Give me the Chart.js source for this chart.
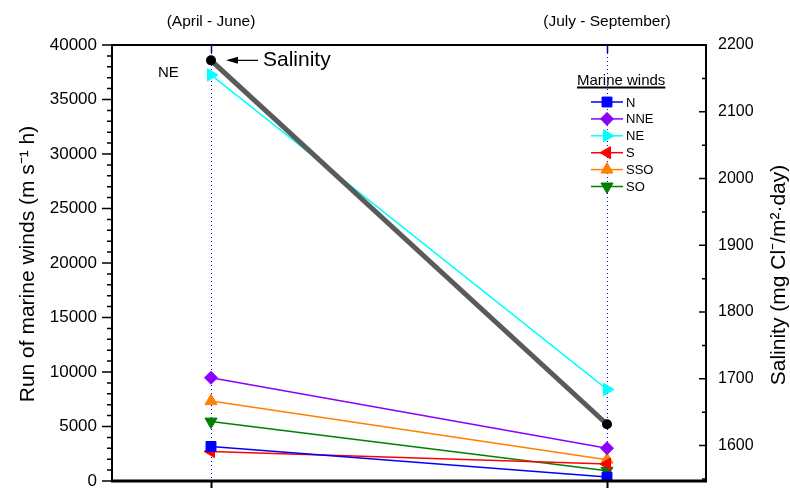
<!DOCTYPE html>
<html>
<head>
<meta charset="utf-8">
<script src="https://cdn.jsdelivr.net/npm/chart.js@4/dist/chart.umd.min.js"></script>
<style>
html,body{margin:0;padding:0;background:#fff;}
canvas{display:block;}
</style>
</head>
<body>
<canvas id="c" width="790" height="489"></canvas>
<script>
// ---- data ----
const categories = ['(April - June)', '(July - September)'];
const windN   = [3170, 360];
const windNNE = [9470, 3010];
const windNE  = [37260, 8400];
const windS   = [2710, 1550];
const windSSO = [7330, 1950];
const windSO  = [5450, 940];
const salinity = [2177, 1632];
const leftTicks = [0, 5000, 10000, 15000, 20000, 25000, 30000, 35000, 40000];
const rightTicks = [1600, 1700, 1800, 1900, 2000, 2100, 2200];
const seriesNames = ['N', 'NNE', 'NE', 'S', 'SSO', 'SO'];

const FONT = '"Liberation Sans", Arial, sans-serif';
const pts = arr => arr.map((v, i) => ({x: i, y: v}));

function windSet(label, data, color, style, rot, radius) {
  return {
    label, data: pts(data), yAxisID: 'y',
    borderColor: color, backgroundColor: color, borderWidth: 1.5,
    pointStyle: style, pointRotation: rot, pointRadius: radius,
    pointBackgroundColor: color, pointBorderColor: color, pointBorderWidth: 1,
    order: 2
  };
}

const datasets = [
  windSet(seriesNames[0], windN, '#0000ff', 'rect', 0, 7),
  windSet(seriesNames[1], windNNE, '#8a00ff', 'rectRot', 0, 6.5),
  windSet(seriesNames[2], windNE, '#00ffff', 'triangle', 90, 7),
  windSet(seriesNames[3], windS, '#ff0000', 'triangle', -90, 7),
  windSet(seriesNames[4], windSSO, '#ff8000', 'triangle', 0, 7),
  windSet(seriesNames[5], windSO, '#008000', 'triangle', 180, 7),
  {
    label: 'Salinity', data: pts(salinity), yAxisID: 'y2',
    borderColor: '#5a5a5a', borderWidth: 5,
    pointStyle: 'circle', pointRadius: 5,
    pointBackgroundColor: '#000', pointBorderColor: '#000', pointBorderWidth: 0,
    order: 1
  }
];

function drawMarker(ctx, ds, x, y) {
  ctx.save();
  ctx.fillStyle = ds.pointBackgroundColor;
  ctx.strokeStyle = ds.pointBorderColor;
  ctx.lineWidth = 1;
  Chart.helpers.drawPoint(ctx, {pointStyle: ds.pointStyle, rotation: ds.pointRotation, radius: ds.pointRadius, borderWidth: 1}, x, y);
  ctx.restore();
}

const decor = {
  id: 'decor',
  beforeDatasetsDraw(chart) {
    const ctx = chart.ctx, a = chart.chartArea, xs = chart.scales.x;
    ctx.save();
    ctx.strokeStyle = '#0000ff';
    ctx.lineWidth = 1;
    ctx.setLineDash([1, 3]);
    categories.forEach((c, i) => {
      const px = Math.round(xs.getPixelForValue(i)) + 0.5;
      ctx.beginPath(); ctx.moveTo(px, a.top); ctx.lineTo(px, a.bottom); ctx.stroke();
    });
    ctx.restore();
  },
  afterDatasetsDraw(chart) {
    const ctx = chart.ctx, a = chart.chartArea;
    const xs = chart.scales.x, ys = chart.scales.y, y2 = chart.scales.y2;
    ctx.save();
    // frame
    ctx.strokeStyle = '#000';
    ctx.lineWidth = 2;
    ctx.beginPath();
    ctx.moveTo(a.left, a.top); ctx.lineTo(a.right, a.top);
    ctx.moveTo(a.left, a.top - 1); ctx.lineTo(a.left, a.bottom);
    ctx.moveTo(a.right, a.top - 1); ctx.lineTo(a.right, a.bottom);
    ctx.stroke();
    ctx.lineWidth = 3;
    ctx.beginPath(); ctx.moveTo(a.left - 1, a.bottom); ctx.lineTo(a.right + 1, a.bottom); ctx.stroke();
    // left ticks
    ctx.lineWidth = 1.5;
    ctx.beginPath();
    for (let v = ys.min; v <= ys.max; v += 1000) {
      const py = ys.getPixelForValue(v);
      const len = (v % 5000 === 0) ? 10 : 5;
      ctx.moveTo(a.left - len, py); ctx.lineTo(a.left, py);
    }
    // right ticks
    for (let v = 1550; v <= y2.max; v += 50) {
      if (v < y2.min) continue;
      const py = y2.getPixelForValue(v);
      const len = (v % 100 === 0) ? 7 : 4;
      ctx.moveTo(a.right - len, py); ctx.lineTo(a.right, py);
    }
    ctx.stroke();
    // x ticks
    ctx.lineWidth = 2;
    ctx.beginPath();
    categories.forEach((c, i) => {
      const px = Math.round(xs.getPixelForValue(i)) + 0.5;
      ctx.moveTo(px, a.bottom); ctx.lineTo(px, a.bottom + 7);
    });
    ctx.stroke();
    ctx.strokeStyle = '#000080';
    ctx.lineWidth = 1.5;
    ctx.beginPath();
    categories.forEach((c, i) => {
      const px = Math.round(xs.getPixelForValue(i)) + 0.5;
      ctx.moveTo(px, a.top); ctx.lineTo(px, a.top + 8);
    });
    ctx.stroke();

    // legend
    const lx0 = a.right - 115, lx1 = a.right - 83, lmx = (lx0 + lx1) / 2;
    ctx.fillStyle = '#000';
    ctx.font = '15px ' + FONT;
    ctx.textBaseline = 'alphabetic';
    ctx.textAlign = 'left';
    const tx = a.right - 129;
    ctx.fillText('Marine winds', tx, a.top + 40);
    const tw = ctx.measureText('Marine winds').width;
    ctx.lineWidth = 2;
    ctx.strokeStyle = '#000';
    ctx.beginPath(); ctx.moveTo(tx, a.top + 42.5); ctx.lineTo(tx + tw, a.top + 42.5); ctx.stroke();
    ctx.font = '13px ' + FONT;
    ctx.textBaseline = 'middle';
    datasets.slice(0, 6).forEach((ds, i) => {
      const ly = a.top + 57 + i * 16.9;
      ctx.strokeStyle = ds.borderColor;
      ctx.lineWidth = 1.5;
      ctx.beginPath(); ctx.moveTo(lx0, ly); ctx.lineTo(lx1, ly); ctx.stroke();
      drawMarker(ctx, ds, lmx, ly);
      ctx.fillStyle = '#000';
      ctx.fillText(ds.label, lx1 + 3, ly + 1);
    });

    // annotations
    const sx = xs.getPixelForValue(0), sy = y2.getPixelForValue(salinity[0]);
    ctx.strokeStyle = '#000';
    ctx.fillStyle = '#000';
    ctx.lineWidth = 1.2;
    ctx.beginPath(); ctx.moveTo(sx + 25, sy); ctx.lineTo(sx + 47, sy); ctx.stroke();
    ctx.beginPath();
    ctx.moveTo(sx + 15, sy); ctx.lineTo(sx + 27, sy - 3.5); ctx.lineTo(sx + 27, sy + 3.5); ctx.closePath(); ctx.fill();
    ctx.font = '21px ' + FONT;
    ctx.textAlign = 'left';
    ctx.textBaseline = 'middle';
    ctx.fillText('Salinity', sx + 52, sy);
    const ney = ys.getPixelForValue(windNE[0]);
    ctx.font = '15px ' + FONT;
    ctx.fillText('NE', sx - 53, ney - 2);
    ctx.restore();
  },
  afterDraw(chart) {
    const ctx = chart.ctx, a = chart.chartArea;
    const cy = (a.top + a.bottom) / 2;
    ctx.save();
    ctx.fillStyle = '#000';
    ctx.font = '21px ' + FONT;
    ctx.textAlign = 'center';
    ctx.textBaseline = 'middle';
    ctx.translate(28, cy + 1);
    ctx.rotate(-Math.PI / 2);
    ctx.fillText('Run of marine winds (m s\u207B\u00B9 h)', 0, 0);
    ctx.restore();
    ctx.save();
    ctx.fillStyle = '#000';
    ctx.font = '21px ' + FONT;
    ctx.textAlign = 'center';
    ctx.textBaseline = 'middle';
    ctx.translate(779, cy + 12);
    ctx.rotate(-Math.PI / 2);
    ctx.fillText('Salinity (mg Cl\u207B/m\u00B2\u00B7day)', 0, 0);
    ctx.restore();
  }
};

const zeroPad = s => { s.paddingTop = 0; s.paddingBottom = 0; };

new Chart(document.getElementById('c'), {
  type: 'line',
  data: { datasets },
  options: {
    responsive: false,
    animation: false,
    events: [],
    layout: { padding: { left: 0, right: 0, top: 0, bottom: 6 } },
    plugins: { legend: { display: false }, tooltip: { enabled: false } },
    scales: {
      x: {
        type: 'linear', position: 'top', min: -0.25, max: 1.25,
        afterBuildTicks: s => { s.ticks = categories.map((c, i) => ({value: i})); },
        afterFit: s => { s.height = 45; s.paddingLeft = 0; s.paddingRight = 0; },
        ticks: { callback: v => categories[v] || '', color: '#000', font: { size: 15.5, family: FONT }, padding: 14, maxRotation: 0, autoSkip: false },
        grid: { display: false, drawTicks: false },
        border: { display: false }
      },
      y: {
        type: 'linear', position: 'left', min: 0, max: 40000,
        afterBuildTicks: s => { s.ticks = leftTicks.map(v => ({value: v})); },
        afterFit: s => { s.width = 112; zeroPad(s); },
        ticks: { callback: v => String(v), color: '#000', font: { size: 17, family: FONT }, padding: 15 },
        grid: { display: false, drawTicks: false },
        border: { display: false }
      },
      y2: {
        type: 'linear', position: 'right', min: 1547, max: 2200,
        afterBuildTicks: s => { s.ticks = rightTicks.map(v => ({value: v})); },
        afterFit: s => { s.width = 84; zeroPad(s); },
        ticks: { callback: v => String(v), color: '#000', font: { size: 16, family: FONT }, padding: 12 },
        grid: { display: false, drawTicks: false },
        border: { display: false }
      }
    }
  },
  plugins: [decor]
});
</script>
</body>
</html>
